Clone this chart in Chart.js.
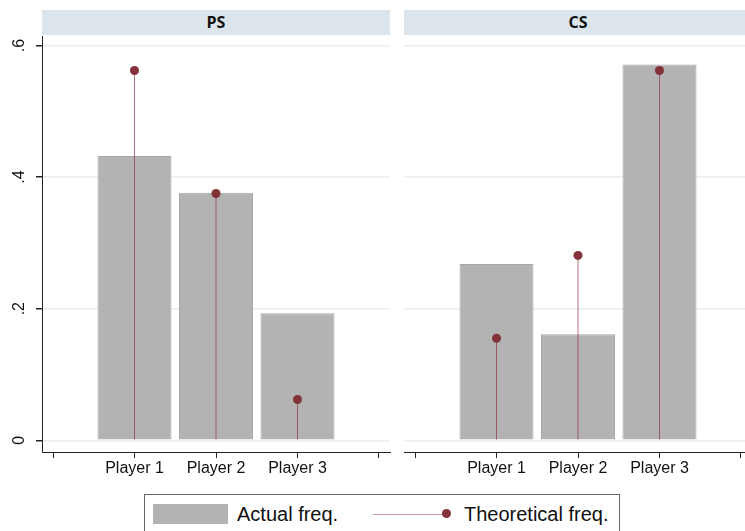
<!DOCTYPE html>
<html>
<head>
<meta charset="utf-8">
<script src="https://cdn.jsdelivr.net/npm/chart.js@4/dist/chart.umd.min.js"></script>
<style>
  body { margin: 0; width: 745px; height: 531px; overflow: hidden; background: #fff; position: relative; }
  canvas { position: absolute; top: 0; }
  .strip { position: absolute; top: 10px; height: 25px; width: 348px; background: #dde5ec;
           font: bold 16px "Open Sans", sans-serif; color: #111; text-align: center; line-height: 25px; }
  #legend { position: absolute; left: 144px; top: 494px; width: 474px; height: 50px; border: 1px solid #666;
            font: 20px "Liberation Sans", Arial, sans-serif; color: #111; }
  #legend span { position: absolute; }
</style>
</head>
<body>
<div class="strip" style="left:42px">PS</div>
<div class="strip" style="left:404px">CS</div>
<canvas id="ps" width="400" height="490" style="left:0"></canvas>
<canvas id="cs" width="358" height="490" style="left:404px"></canvas>
<div id="legend">
  <span style="left:8px;top:9px;width:75px;height:20px;background:#b3b3b3"></span>
  <span style="left:92px;top:8px;line-height:22px">Actual freq.</span>
  <span style="left:228px;top:19px;width:72px;height:1px;background:#c99aa0"></span>
  <span style="left:297px;top:14px;width:9px;height:9px;border-radius:50%;background:#83323a"></span>
  <span style="left:319px;top:8px;line-height:22px">Theoretical freq.</span>
</div>
<script>
const players = ['Player 1', 'Player 2', 'Player 3'];
const xPos = [1, 2, 3];
const xTicks = [0, 1, 2, 3, 4];
const yTicks = [0, 0.2, 0.4, 0.6];
const yTickLabels = ['0', '.2', '.4', '.6'];

const psActual = [0.432, 0.376, 0.193];
const psTheory = [0.562, 0.375, 0.062];
const csActual = [0.268, 0.161, 0.571];
const csTheory = [0.155, 0.281, 0.562];

const font = { family: '"Liberation Sans", Arial, sans-serif', size: 16 };
const dark = '#222';

function points(vals) {
    return vals.map((v, i) => ({ x: xPos[i], y: v }));
}

function panel(id, actual, theory, showY) {
    new Chart(document.getElementById(id), {
        type: 'bar',
        data: {
            datasets: [
                {
                    type: 'line',
                    data: points(theory),
                    showLine: false,
                    pointRadius: 4.5,
                    pointBackgroundColor: '#83323a',
                    pointBorderWidth: 0,
                    order: 0
                },
                {
                    data: points(theory),
                    backgroundColor: 'rgba(140,45,55,0.65)',
                    grouped: false,
                    maxBarThickness: 1,
                    order: 1
                },
                {
                    data: points(actual),
                    backgroundColor: '#b3b3b3',
                    borderColor: '#a7a7a7',
                    borderWidth: 1,
                    grouped: false,
                    categoryPercentage: 1,
                    barPercentage: 0.908,
                    order: 2
                }
            ]
        },
        options: {
            responsive: false,
            animation: false,
            layout: { autoPadding: false, padding: { top: 36, right: 10, left: 0, bottom: 0 } },
            plugins: { legend: { display: false }, tooltip: { enabled: false } },
            scales: {
                x: {
                    type: 'linear',
                    offset: false,
                    min: -0.135,
                    max: 4.135,
                    afterBuildTicks: s => { s.ticks = xTicks.map(v => ({ value: v })); },
                    afterFit: s => { s.height = 38; },
                    ticks: {
                        font: font,
                        color: '#111',
                        padding: 1,
                        maxRotation: 0,
                        callback: v => players[xPos.indexOf(v)] || ''
                    },
                    grid: { offset: false, drawOnChartArea: false, tickLength: 6, tickColor: dark },
                    border: { color: dark }
                },
                y: {
                    min: -0.0178,
                    max: 0.6144,
                    afterBuildTicks: s => { s.ticks = yTicks.map(v => ({ value: v })); },
                    afterFit: s => { s.width = showY ? 42 : 0; },
                    ticks: {
                        display: showY,
                        font: font,
                        color: '#111',
                        minRotation: 90,
                        maxRotation: 90,
                        crossAlign: 'center',
                        padding: 10,
                        callback: v => yTickLabels[yTicks.indexOf(v)]
                    },
                    grid: { color: '#e9efef', lineWidth: 1.5, drawTicks: showY, tickLength: 6, tickColor: dark },
                    border: { display: showY, color: dark }
                }
            }
        }
    });
}

panel('ps', psActual, psTheory, true);
panel('cs', csActual, csTheory, false);
</script>
</body>
</html>
